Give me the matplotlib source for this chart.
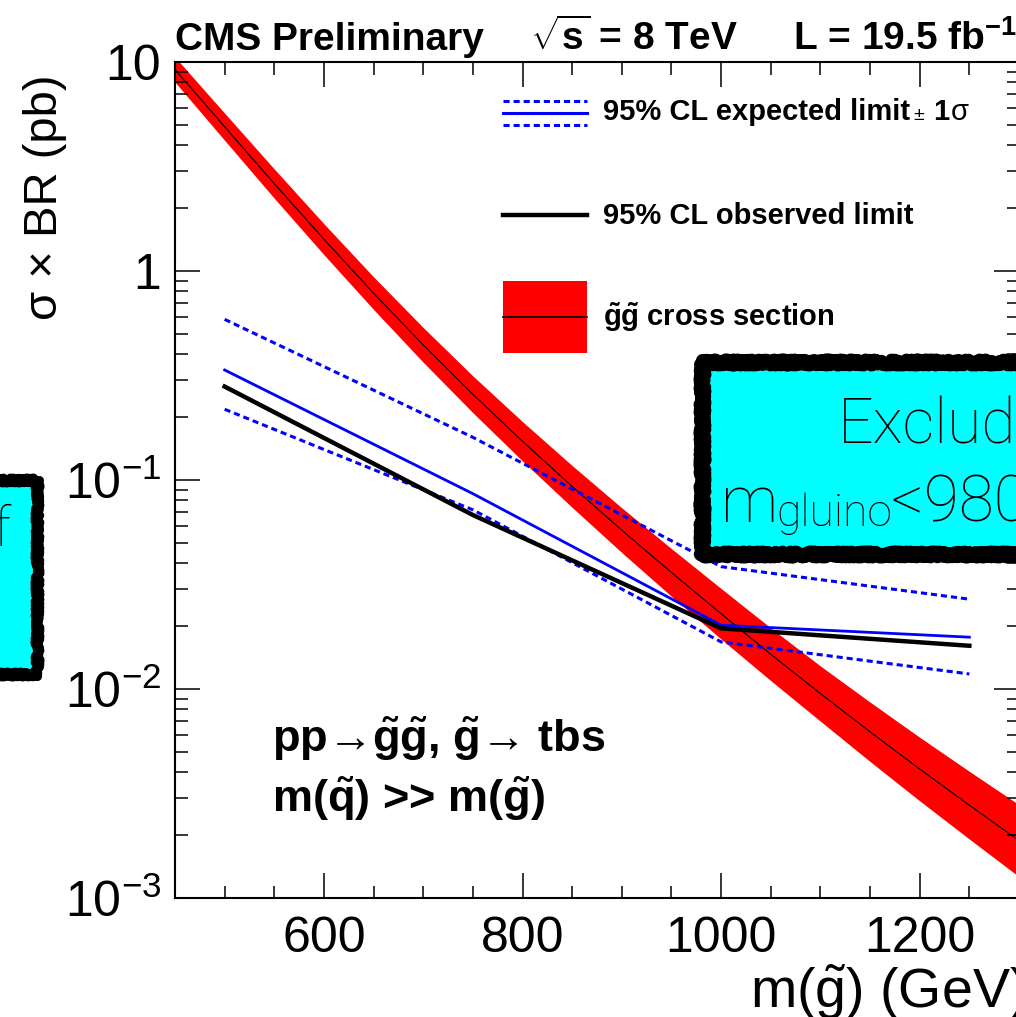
import numpy as np
import matplotlib
matplotlib.use('Agg')
import matplotlib.pyplot as plt
from matplotlib import font_manager
from matplotlib.patches import Rectangle
from matplotlib.lines import Line2D
from matplotlib.ticker import FixedLocator, MultipleLocator, LogLocator, NullFormatter, FixedFormatter

installed = {f.name for f in font_manager.fontManager.ttflist}
SANS = 'Liberation Sans'
THIN = 'Roboto' if 'Roboto' in installed else 'DejaVu Sans'

plt.rcParams['mathtext.fontset'] = 'custom'
plt.rcParams['mathtext.rm'] = SANS
plt.rcParams['mathtext.bf'] = SANS + ':bold'
plt.rcParams['mathtext.it'] = SANS + ':italic'

# gluino pair cross section (pb): central value and band half width (dex)
mass_xs = [450, 500, 550, 600, 650, 700, 750, 800, 850, 900,
           950, 1000, 1050, 1100, 1150, 1200, 1250, 1300]
xs_central = [9.20, 4.90, 2.618, 1.419, 0.783, 0.443, 0.257, 0.1531, 0.0931, 0.0575,
              0.0361, 0.0229, 0.01466, 0.00951, 0.00624, 0.00414, 0.00278, 0.00188]
xs_width = [0.060, 0.065, 0.070, 0.074, 0.078, 0.083, 0.088, 0.094, 0.100, 0.107,
            0.114, 0.121, 0.126, 0.132, 0.142, 0.152, 0.162, 0.172]

# limits (pb)
mass_lim = [500, 750, 1000, 1250]
obs_limit = [0.28, 0.068, 0.0195, 0.0161]
exp_limit = [0.336, 0.086, 0.0202, 0.0177]
exp_up = [0.587, 0.16, 0.0385, 0.0269]
exp_down = [0.218, 0.072, 0.0168, 0.0118]

W, H = 1016, 1017
fig = plt.figure(figsize=(W / 100, H / 100), dpi=100)
ax = fig.add_axes([175 / W, 1 - 898 / H, (1019 - 175) / W, (898 - 62) / H])

def fx(x):
    return x / W

def fy(y):
    return 1 - y / H

xc = np.array(xs_central)
wd = np.array(xs_width)
ax.fill_between(mass_xs, xc * 10**(-wd), xc * 10**wd, color='#ff0000', lw=0, zorder=1)
ax.plot(mass_xs, xs_central, color='black', lw=0.8, zorder=2)

ax.plot(mass_lim, exp_up, color='#0000ff', lw=2.2, dashes=(2.0, 1.3), zorder=3)
ax.plot(mass_lim, exp_down, color='#0000ff', lw=2.2, dashes=(2.0, 1.3), zorder=3)
ax.plot(mass_lim, exp_limit, color='#0000ff', lw=2.0, zorder=4)
ax.plot(mass_lim, obs_limit, color='black', lw=3.2, zorder=5)

ax.set_yscale('log')
ax.set_xlim(450, 1300)
ax.set_ylim(1e-3, 10)

ax.xaxis.set_major_locator(FixedLocator([600, 800, 1000, 1200]))
ax.xaxis.set_minor_locator(MultipleLocator(50))
ax.yaxis.set_major_locator(FixedLocator([1e-3, 1e-2, 1e-1, 1, 10]))
ax.yaxis.set_major_formatter(FixedFormatter(['10$^{-3}$', '10$^{-2}$', '10$^{-1}$', '1', '10']))
ax.yaxis.set_minor_locator(LogLocator(base=10, subs=np.arange(2, 10)))
ax.yaxis.set_minor_formatter(NullFormatter())

ax.tick_params(which='both', direction='in', top=True, right=True, width=1.1)
ax.tick_params(which='major', length=18, labelsize=36, pad=10)
ax.tick_params(axis='x', which='major', pad=13)
ax.tick_params(which='minor', length=9)
for lab in ax.get_xticklabels() + ax.get_yticklabels():
    lab.set_family(SANS)
for s in ax.spines.values():
    s.set_linewidth(1.5)

# header
fig.text(fx(175), fy(50), 'CMS Preliminary', family=SANS, weight='bold', fontsize=28, va='baseline')
fig.text(fx(530), fy(50), r'$\sqrt{\mathbf{s}}$ = 8 TeV', family=SANS, weight='bold', fontsize=28,
         va='baseline')
fig.text(fx(1017), fy(50), r'L = 19.5 fb$^{\mathbf{-1}}$', family=SANS, weight='bold', fontsize=28,
         va='baseline', ha='right')

# axis titles
fig.text(fx(45), fy(74), 'σ × BR (pb)', family=[SANS, 'DejaVu Sans'], fontsize=34,
         rotation=90, ha='center', va='top')
fig.text(fx(1026), fy(992), r'm($\tilde{\mathrm{g}}$) (GeV)', family=SANS, fontsize=40,
         ha='right', va='center')

# legend
lx0, lx1 = 503, 587
for y, ls in [(100.5, (2.0, 1.3)), (112.5, None), (124.5, (2.0, 1.3))]:
    ln = Line2D([fx(lx0), fx(lx1)], [fy(y), fy(y)], color='#0000ff', lw=2.2, transform=fig.transFigure)
    if ls:
        ln.set_dashes(ls)
    fig.add_artist(ln)
fig.add_artist(Line2D([fx(lx0), fx(lx1)], [fy(214.5), fy(214.5)], color='black', lw=3.2,
                      transform=fig.transFigure))
fig.add_artist(Rectangle((fx(lx0), fy(352.7)), fx(lx1 - lx0), (352.7 - 281) / H, facecolor='#ff0000',
                         edgecolor='none', transform=fig.transFigure))
fig.add_artist(Line2D([fx(lx0), fx(lx1)], [fy(316.7), fy(316.7)], color='black', lw=1.2,
                      transform=fig.transFigure))
leg_font = [SANS, 'DejaVu Sans']
fig.text(fx(603), fy(112), '95% CL expected limit', family=leg_font, weight='bold', fontsize=21, va='center')
fig.text(fx(913), fy(115), '±', family=leg_font, fontsize=14, va='center')
fig.text(fx(933), fy(112), '1', family=leg_font, weight='bold', fontsize=21, va='center')
fig.text(fx(951), fy(112), 'σ', family=leg_font, fontsize=21, va='center')
fig.text(fx(603), fy(216), '95% CL observed limit', family=leg_font, weight='bold', fontsize=21, va='center')
fig.text(fx(603), fy(317), r'$\mathbf{\tilde{g}\tilde{g}}$ cross section', family=leg_font, weight='bold',
         fontsize=21, va='center')

# process text
fig.text(fx(272), fy(752), r'pp→$\mathbf{\tilde{g}\tilde{g}}$, $\mathbf{\tilde{g}}$→ tbs', family=leg_font,
         weight='bold', fontsize=32.5, va='baseline')
fig.text(fx(272), fy(812), r'm($\mathbf{\tilde{q}}$) >> m($\mathbf{\tilde{g}}$)', family=leg_font,
         weight='bold', fontsize=32.5, va='baseline')

# overlaid cyan boxes
box_r = Rectangle((fx(701.5), fy(553.5)), fx(1060 - 701.5), (553.5 - 361.5) / H, facecolor='#00ffff',
                  edgecolor='black', lw=9.4, joinstyle='round', transform=fig.transFigure, zorder=10)
box_r.set_sketch_params(2.5, 2.5, 3)
fig.add_artist(box_r)
box_l = Rectangle((fx(-40), fy(674)), fx(37 + 40), (674 - 480) / H, facecolor='#00ffff',
                  edgecolor='black', lw=6.5, joinstyle='round', transform=fig.transFigure, zorder=10)
box_l.set_sketch_params(2.5, 2.5, 3)
fig.add_artist(box_l)

fig.text(fx(838), fy(443), 'Excluded', family=THIN, weight='light', fontsize=45, va='baseline', zorder=11)
fig.text(fx(721), fy(522), 'm', family=THIN, weight='light', fontsize=46, va='baseline', zorder=11)
fig.text(fx(776), fy(526), 'gluino', family=THIN, weight='light', fontsize=32, va='baseline', zorder=11)
fig.text(fx(891), fy(522), '<980 GeV', family=THIN, weight='light', fontsize=46, va='baseline', zorder=11)
fig.text(fx(12), fy(545), 'of', family=THIN, weight='light', fontsize=40, va='baseline', ha='right', zorder=11)

fig.savefig('out.png', dpi=100)
